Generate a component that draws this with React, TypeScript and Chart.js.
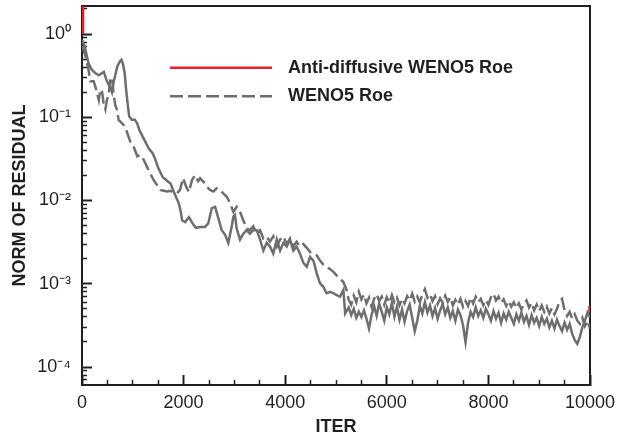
import React, { useEffect, useRef } from 'react';
import { Chart, registerables } from 'chart.js';

Chart.register(...registerables);

// ---- data ----
const solidIter = [
  0, 55, 130, 195, 260, 330, 430, 490, 555, 590, 625, 655, 690, 735, 775, 805, 840, 870, 905, 930,
  985, 1035, 1085, 1130, 1180, 1245, 1315, 1390, 1445, 1495, 1540, 1590, 1640, 1695, 1740, 1805, 1850, 1890, 1915, 1945,
  1970, 2030, 2105, 2185, 2245, 2325, 2420, 2485, 2555, 2620, 2685, 2750, 2815, 2880, 2945, 2980, 3010, 3045, 3110, 3175,
  3240, 3305, 3370, 3440, 3505, 3570, 3635, 3700, 3765, 3835, 3900, 3965, 4030, 4095, 4160, 4225, 4290, 4355, 4425, 4490,
  4555, 4620, 4685, 4750, 4815, 4880, 4945, 5015, 5080, 5145, 5180,
  5250, 5300, 5350, 5400, 5450, 5500, 5550, 5600, 5650, 5700, 5750, 5800, 5850, 5900, 5950, 6000, 6050, 6100, 6150, 6200,
  6250, 6300, 6350, 6400, 6450, 6500, 6550, 6600, 6650, 6700, 6750, 6800, 6850, 6900, 6950, 7000, 7050, 7100, 7150, 7200,
  7250, 7300, 7350, 7400, 7450, 7500, 7550, 7600, 7650, 7700, 7750, 7800, 7850, 7900, 7950, 8000, 8050, 8100, 8150, 8200,
  8250, 8300, 8350, 8400, 8450, 8500, 8550, 8600, 8650, 8700, 8750, 8800, 8850, 8900, 8950, 9000, 9050, 9100, 9150, 9200,
  9250, 9300, 9350, 9400, 9450, 9500, 9550, 9600, 9650, 9700, 9750, 9800, 9850, 9900, 9950, 10000,
];
const solidRes = [
  0.85, 0.70, 0.44, 0.37, 0.34, 0.32, 0.35, 0.27, 0.23, 0.20, 0.27, 0.32, 0.40, 0.46, 0.49, 0.44, 0.34, 0.21, 0.134, 0.102,
  0.093, 0.094, 0.085, 0.070, 0.061, 0.051, 0.042, 0.037, 0.031, 0.025, 0.022, 0.019, 0.018, 0.0168, 0.0161, 0.0128, 0.0111, 0.0097, 0.0088, 0.0073,
  0.0058, 0.0055, 0.0063, 0.0052, 0.0047, 0.0048, 0.0048, 0.0053, 0.0081, 0.0084, 0.0061, 0.0044, 0.0039, 0.0031, 0.0048, 0.0064, 0.0067, 0.0046, 0.0034, 0.0040,
  0.0044, 0.0040, 0.0044, 0.0044, 0.0034, 0.0025, 0.0031, 0.0028, 0.0023, 0.0034, 0.0025, 0.0031, 0.0028, 0.0034, 0.0025, 0.0028, 0.0023, 0.0018, 0.0016, 0.0021,
  0.0019, 0.00134, 0.00101, 0.00092, 0.00077, 0.00080, 0.00077, 0.00073, 0.00070, 0.00084, 0.00044,
  5.2e-4, 4.2e-4, 5.0e-4, 3.9e-4, 4.6e-4, 4.0e-4, 4.8e-4, 3.8e-4, 2.9e-4, 4.2e-4, 5.4e-4, 4.1e-4, 5.8e-4, 4.6e-4, 3.6e-4, 5.2e-4, 4.3e-4, 5.9e-4, 4.0e-4, 5.3e-4,
  3.7e-4, 4.9e-4, 3.5e-4, 4.7e-4, 5.6e-4, 3.9e-4, 2.7e-4, 3.6e-4, 5.4e-4, 4.4e-4, 6.0e-4, 4.5e-4, 5.5e-4, 4.1e-4, 5.1e-4, 3.8e-4, 4.8e-4, 5.7e-4, 4.3e-4, 5.2e-4,
  3.9e-4, 4.7e-4, 3.6e-4, 4.9e-4, 4.2e-4, 3.2e-4, 2.0e-4, 3.4e-4, 4.6e-4, 4.0e-4, 5.2e-4, 4.1e-4, 4.8e-4, 3.9e-4, 5.0e-4, 4.3e-4, 3.6e-4, 4.7e-4, 3.8e-4, 4.5e-4,
  3.4e-4, 4.4e-4, 3.7e-4, 4.6e-4, 3.9e-4, 3.3e-4, 4.3e-4, 3.6e-4, 4.5e-4, 3.5e-4, 4.1e-4, 3.2e-4, 4.2e-4, 3.4e-4, 3.9e-4, 3.1e-4, 4.0e-4, 3.3e-4, 3.8e-4, 3.0e-4,
  3.6e-4, 2.9e-4, 3.7e-4, 3.1e-4, 2.7e-4, 3.4e-4, 2.8e-4, 3.3e-4, 2.5e-4, 2.1e-4, 1.9e-4, 2.3e-4, 3.0e-4, 3.6e-4, 4.5e-4, 3.9e-4,
];

const dashIter = [
  0, 55, 120, 165, 230, 275, 330, 360, 395, 425, 460, 490, 525, 555, 590, 625, 655, 690, 720, 785,
  850, 905, 950, 1000, 1050, 1090, 1140, 1180, 1235, 1285, 1345, 1410, 1475, 1540, 1610, 1675, 1740, 1805, 1870, 1930,
  1990, 2045, 2105, 2165, 2225, 2285, 2325, 2390, 2455, 2520, 2585, 2650, 2715, 2780, 2850, 2915, 2980, 3045, 3110, 3175,
  3240, 3305, 3370, 3440, 3505, 3570, 3635, 3700, 3765, 3835, 3900, 3965, 4030, 4095, 4160, 4225, 4290, 4355, 4425, 4490,
  4555, 4620, 4685, 4750, 4815, 4880, 4945, 5015, 5080, 5145, 5210,
  5250, 5300, 5350, 5400, 5450, 5500, 5550, 5600, 5650, 5700, 5750, 5800, 5850, 5900, 5950, 6000, 6050, 6100, 6150, 6200,
  6250, 6300, 6350, 6400, 6450, 6500, 6550, 6600, 6650, 6700, 6750, 6800, 6850, 6900, 6950, 7000, 7050, 7100, 7150, 7200,
  7250, 7300, 7350, 7400, 7450, 7500, 7550, 7600, 7650, 7700, 7750, 7800, 7850, 7900, 7950, 8000, 8050, 8100, 8150, 8200,
  8250, 8300, 8350, 8400, 8450, 8500, 8550, 8600, 8650, 8700, 8750, 8800, 8850, 8900, 8950, 9000, 9050, 9100, 9150, 9200,
  9250, 9300, 9350, 9400, 9450, 9500, 9550, 9600, 9650, 9700, 9750, 9800, 9850, 9900, 9950, 10000,
];
const dashRes = [
  0.72, 0.59, 0.40, 0.27, 0.27, 0.22, 0.161, 0.216, 0.203, 0.147, 0.125, 0.161, 0.185, 0.29, 0.30, 0.185, 0.140, 0.122, 0.093, 0.085,
  0.077, 0.061, 0.051, 0.048, 0.039, 0.034, 0.035, 0.034, 0.029, 0.025, 0.021, 0.0176, 0.0154, 0.0134, 0.0131, 0.0128, 0.0131, 0.0124, 0.0122, 0.0134,
  0.0186, 0.0149, 0.0126, 0.0176, 0.0202, 0.0171, 0.0185, 0.0168, 0.0147, 0.0134, 0.0128, 0.0140, 0.0134, 0.0122, 0.0111, 0.0093, 0.0073, 0.0084, 0.0073, 0.0058,
  0.0046, 0.0044, 0.0049, 0.0040, 0.0044, 0.0035, 0.0037, 0.0032, 0.0037, 0.0028, 0.0034, 0.0037, 0.0030, 0.0035, 0.0028, 0.0032, 0.0028, 0.0030, 0.0027, 0.0024,
  0.0023, 0.0022, 0.0019, 0.0017, 0.0016, 0.00150, 0.00140, 0.00125, 0.00115, 0.00105, 0.00084,
  6.4e-4, 5.6e-4, 7.2e-4, 6.0e-4, 8.0e-4, 6.5e-4, 7.4e-4, 5.8e-4, 6.8e-4, 5.3e-4, 6.6e-4, 7.5e-4, 6.2e-4, 7.0e-4, 5.6e-4, 6.9e-4, 5.9e-4, 7.3e-4, 6.0e-4, 6.8e-4,
  5.5e-4, 6.6e-4, 5.8e-4, 7.1e-4, 6.3e-4, 7.6e-4, 6.1e-4, 7.0e-4, 6.0e-4, 7.4e-4, 8.6e-4, 6.8e-4, 7.5e-4, 6.2e-4, 7.1e-4, 5.7e-4, 6.7e-4, 5.9e-4, 7.2e-4, 6.1e-4,
  6.9e-4, 5.5e-4, 6.4e-4, 5.6e-4, 6.6e-4, 5.3e-4, 6.2e-4, 5.4e-4, 6.8e-4, 5.8e-4, 7.0e-4, 6.0e-4, 6.6e-4, 5.5e-4, 6.4e-4, 5.6e-4, 6.9e-4, 7.6e-4, 6.3e-4, 7.0e-4,
  5.9e-4, 6.5e-4, 5.4e-4, 6.2e-4, 5.3e-4, 6.0e-4, 5.1e-4, 5.8e-4, 4.9e-4, 5.7e-4, 6.3e-4, 5.2e-4, 5.9e-4, 4.8e-4, 5.6e-4, 4.7e-4, 5.5e-4, 4.6e-4, 5.3e-4, 4.4e-4,
  5.1e-4, 4.3e-4, 5.0e-4, 6.2e-4, 6.6e-4, 4.8e-4, 4.1e-4, 4.6e-4, 3.8e-4, 4.3e-4, 3.6e-4, 3.3e-4, 3.9e-4, 3.1e-4, 3.6e-4, 2.9e-4,
];

// visible red pieces of the anti-diffusive curve (start spike and final value)
const redIter = [20, 20, 5000, 9990, 9990];
const redRes = [3.0, 1.0, null, 5.4e-4, 4.5e-4];

const seriesLabels = ['Anti-diffusive WENO5 Roe', 'WENO5 Roe'];
const xLabelValues = [0, 2000, 4000, 6000, 8000, 10000];
const xMinorStep = 500;
const yDecades = [-4, -3, -2, -1, 0];

const FONT = '"Liberation Sans", Arial, Helvetica, sans-serif';
const INK = '#231f20';
const GRAY = '#6d6e70';
const RED = '#e8202a';

const SUP: Record<string, string> = { '-': '\u207B', '0': '\u2070', '1': '\u00B9', '2': '\u00B2', '3': '\u00B3', '4': '\u2074', '5': '\u2075' };
const sup = (n: number) => String(n).split('').map((c) => SUP[c] || c).join('');

const isDecade = (v: number) => Math.abs(Math.log10(v) - Math.round(Math.log10(v))) < 1e-6;

const insetLegend = {
  id: 'insetLegend',
  afterDatasetsDraw(chart: any) {
    const ctx = chart.ctx as CanvasRenderingContext2D;
    const items = chart.data.datasets.filter((d: any) => d.label);
    items.forEach((d: any, i: number) => {
      const y = 67.8 + i * 28.4;
      ctx.save();
      ctx.strokeStyle = d.borderColor;
      ctx.lineWidth = d.borderWidth;
      ctx.setLineDash(d.borderDash || []);
      ctx.beginPath();
      ctx.moveTo(170, y);
      ctx.lineTo(272, y);
      ctx.stroke();
      ctx.setLineDash([]);
      ctx.fillStyle = INK;
      ctx.font = `bold 18px ${FONT}`;
      ctx.textBaseline = 'middle';
      ctx.textAlign = 'left';
      ctx.fillText(d.label, 288, y);
      ctx.restore();
    });
  },
};

export default function App() {
  const ref = useRef<HTMLCanvasElement | null>(null);

  useEffect(() => {
    if (!ref.current) return;
    const pts = (xs: number[], ys: (number | null)[]) => xs.map((x, i) => ({ x, y: ys[i] }));
    const yMin = 6.08e-5;
    const yMax = 2.17;

    const chart = new Chart(ref.current, {
      type: 'line',
      data: {
        datasets: [
          {
            data: pts(solidIter, solidRes),
            borderColor: GRAY,
            borderWidth: 2.5,
            pointRadius: 0,
            tension: 0,
            order: 0,
            xAxisID: 'x',
            yAxisID: 'y',
          } as any,
          {
            label: seriesLabels[0],
            data: pts(redIter, redRes),
            borderColor: RED,
            borderWidth: 2.5,
            pointRadius: 0,
            spanGaps: false,
            order: 1,
            xAxisID: 'x',
            yAxisID: 'y',
          },
          {
            label: seriesLabels[1],
            data: pts(dashIter, dashRes),
            borderColor: GRAY,
            borderWidth: 2.5,
            borderDash: [13, 5],
            pointRadius: 0,
            tension: 0,
            order: 2,
            xAxisID: 'x',
            yAxisID: 'y',
          },
        ],
      },
      options: {
        animation: false,
        responsive: false,
        devicePixelRatio: 1,
        layout: { padding: 0, autoPadding: false },
        plugins: { legend: { display: false }, tooltip: { enabled: false } },
        scales: {
          x: {
            type: 'linear',
            position: 'bottom',
            min: 0,
            max: 10000,
            afterBuildTicks: (s: any) => {
              const t = [];
              for (let v = 0; v <= 10000; v += xMinorStep) t.push({ value: v });
              s.ticks = t;
            },
            afterFit: (s: any) => {
              s.height = 55;
              s.paddingLeft = 0;
              s.paddingRight = 0;
              s.paddingTop = 0;
              s.paddingBottom = 0;
            },
            ticks: {
              autoSkip: false,
              maxRotation: 0,
              padding: 17,
              color: INK,
              font: { family: FONT, size: 18 },
              callback: (v: any) => (xLabelValues.includes(Number(v)) ? String(v) : ''),
            },
            grid: {
              drawOnChartArea: false,
              drawTicks: true,
              tickLength: -10,
              tickColor: INK,
              tickWidth: (c: any) => (xLabelValues.includes(c.tick?.value) ? 2 : 1.5),
              tickBorderDash: (c: any) => (xLabelValues.includes(c.tick?.value) ? [] : [6, 50]),
            },
            border: { display: true, color: INK, width: 2 },
            title: {
              display: true,
              text: 'ITER',
              color: INK,
              font: { family: FONT, size: 18, weight: 'bold' },
              padding: { top: 0, bottom: 2 },
            },
          },
          y: {
            type: 'logarithmic',
            position: 'left',
            min: yMin,
            max: yMax,
            afterBuildTicks: (s: any) => {
              const t = [];
              for (let n = -5; n <= 0; n++) {
                for (let k = 1; k <= 9; k++) {
                  const v = k * Math.pow(10, n);
                  if (v >= yMin && v <= yMax) t.push({ value: v });
                }
              }
              s.ticks = t;
            },
            afterFit: (s: any) => {
              s.width = 82;
              s.paddingLeft = 0;
              s.paddingRight = 0;
              s.paddingTop = 0;
              s.paddingBottom = 0;
            },
            ticks: {
              autoSkip: false,
              crossAlign: 'near',
              padding: 21,
              color: INK,
              font: { family: FONT, size: 18 },
              callback: (v: any) => {
                const val = Number(v);
                if (!isDecade(val)) return '';
                const e = Math.round(Math.log10(val));
                return yDecades.includes(e) ? '10' + sup(e) : '';
              },
            },
            grid: {
              drawOnChartArea: false,
              drawTicks: true,
              tickLength: -10,
              tickColor: INK,
              tickWidth: (c: any) => (c.tick && isDecade(c.tick.value) ? 2 : 1.5),
              tickBorderDash: (c: any) => (c.tick && isDecade(c.tick.value) ? [] : [0, 5, 6, 50]),
            },
            border: { display: true, color: INK, width: 2 },
            title: {
              display: true,
              text: 'NORM OF RESIDUAL',
              color: INK,
              font: { family: FONT, size: 18, weight: 'bold' },
              padding: { top: 9, bottom: 0 },
            },
          },
          x2: {
            type: 'linear',
            position: 'top',
            min: 0,
            max: 10000,
            ticks: { display: false },
            grid: { display: false, drawTicks: false, drawOnChartArea: false },
            border: { display: true, color: INK, width: 2 },
            afterFit: (s: any) => {
              s.height = 6;
            },
          },
          y2: {
            type: 'linear',
            position: 'right',
            min: 0,
            max: 1,
            ticks: { display: false },
            grid: { display: false, drawTicks: false, drawOnChartArea: false },
            border: { display: true, color: INK, width: 2 },
            afterFit: (s: any) => {
              s.width = 27;
            },
          },
        },
      } as any,
      plugins: [insetLegend],
    });

    return () => chart.destroy();
  }, []);

  return (
    <div style={{ position: 'fixed', left: 0, top: 0, width: 617, height: 440, background: '#fff' }}>
      <canvas ref={ref} width={617} height={440} style={{ display: 'block' }} />
    </div>
  );
}
